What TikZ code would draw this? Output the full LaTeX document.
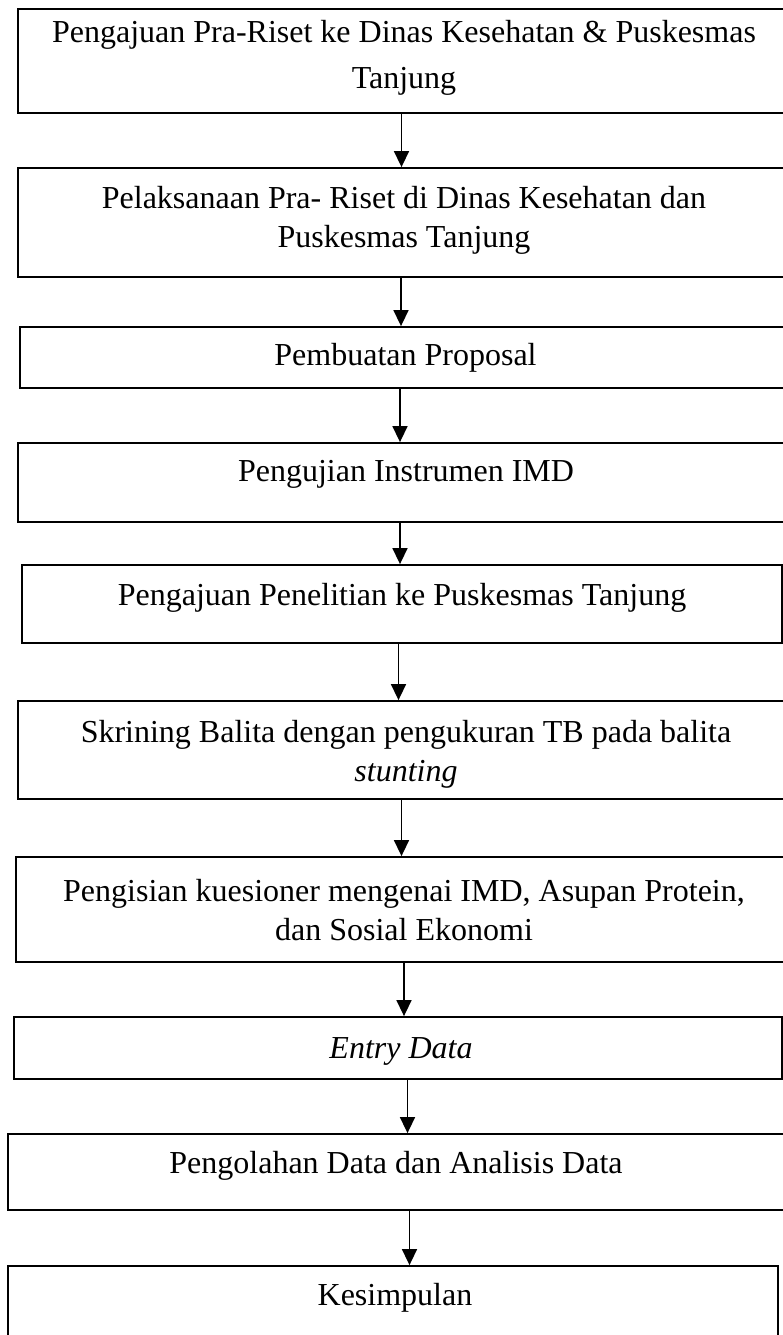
\documentclass[tikz,border=0pt]{standalone}
\usepackage{fontspec}
\setmainfont{Liberation Serif}
\usetikzlibrary{arrows.meta,positioning}

\tikzset{
	stepbox/.style={draw, rectangle, line width=1.8pt, inner sep=0pt},
	steptext/.style={align=center, inner sep=0pt, font=\fontsize{32}{39}\selectfont},
	flow/.style={-{Triangle[width=15pt,length=16pt]}, line width=1.5pt},
}

\begin{document}
\begin{tikzpicture}[x=1pt, y=-1pt]
			\useasboundingbox (0,0) rectangle (783,1335);

			% kotak
			\node[stepbox, minimum width=772, minimum height=104] (b1) at (404,61) {};
			\node[stepbox, minimum width=772, minimum height=109] (b2) at (404,222.5) {};
			\node[stepbox, minimum width=771, minimum height=61] (b3) at (405.5,357.5) {};
			\node[stepbox, minimum width=776, minimum height=79] (b4) at (406,482.5) {};
			\node[stepbox, minimum width=760, minimum height=78] (b5) at (402,604) {};
			\node[stepbox, minimum width=776, minimum height=98] (b6) at (406,750) {};
			\node[stepbox, minimum width=776, minimum height=105] (b7) at (404,909.5) {};
			\node[stepbox, minimum width=768, minimum height=62] (b8) at (398,1048) {};
			\node[stepbox, minimum width=776, minimum height=76] (b9) at (396,1172) {};
			\node[stepbox, minimum width=770, minimum height=79] (b10) at (393,1305.5) {};

			% teks
			\node[steptext] (t1) at (404,58) {Pengajuan Pra-Riset ke Dinas Kesehatan \& Puskesmas\\[7pt] Tanjung};
			\node[steptext] (t2) at (404,220) {Pelaksanaan Pra- Riset di Dinas Kesehatan dan\\ Puskesmas Tanjung};
			\node[steptext] (t3) at (405.5,358) {Pembuatan Proposal};
			\node[steptext] (t4) at (406,474) {Pengujian Instrumen IMD};
			\node[steptext] (t5) at (402,598) {Pengajuan Penelitian ke Puskesmas Tanjung};
			\node[steptext] (t6) at (406,754) {Skrining Balita dengan pengukuran TB pada balita\\ \textit{stunting}};
			\node[steptext] (t7) at (404,910) {Pengisian kuesioner mengenai IMD, Asupan Protein,\\ dan Sosial Ekonomi};
			\node[steptext] (t8) at (401,1051) {\textit{Entry Data}};
			\node[steptext] (t9) at (396,1166) {Pengolahan Data dan Analisis Data};
			\node[steptext] (t10) at (395,1298) {Kesimpulan};

			% panah
			\draw[flow] ([xshift=-2.5]b1.south) -- ([xshift=-2.5]b1.south |- b2.north);
			\draw[flow] ([xshift=-3]b2.south) -- ([xshift=-3]b2.south |- b3.north);
			\draw[flow] ([xshift=-5.5]b3.south) -- ([xshift=-5.5]b3.south |- b4.north);
			\draw[flow] ([xshift=-6]b4.south) -- ([xshift=-6]b4.south |- b5.north);
			\draw[flow] ([xshift=-3.5]b5.south) -- ([xshift=-3.5]b5.south |- b6.north);
			\draw[flow] ([xshift=-4.5]b6.south) -- ([xshift=-4.5]b6.south |- b7.north);
			\draw[flow] (b7.south) -- (b7.south |- b8.north);
			\draw[flow] ([xshift=9.5]b8.south) -- ([xshift=9.5]b8.south |- b9.north);
			\draw[flow] ([xshift=13.5]b9.south) -- ([xshift=13.5]b9.south |- b10.north);

		\end{tikzpicture}
\end{document}
